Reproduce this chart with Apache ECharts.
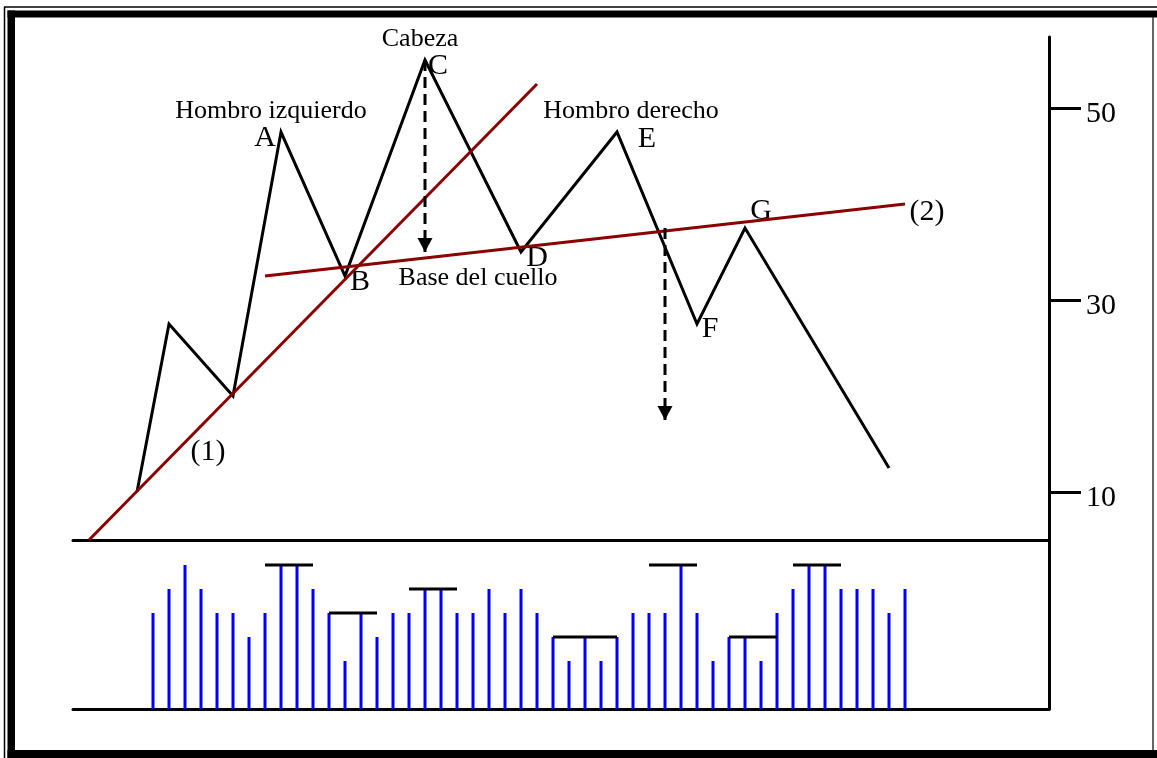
<!DOCTYPE html>
<html>
<head>
<meta charset="utf-8">
<title>Hombro-cabeza-hombro</title>
<script src="https://cdn.jsdelivr.net/npm/echarts@6/dist/echarts.min.js"></script>
<style>
  html, body { margin: 0; padding: 0; background: #fff; }
  #chart { width: 1157px; height: 758px; }
</style>
</head>
<body>
<div id="chart"></div>
<script>
// price path (session index, price)
const priceX = [-1, 1, 5, 8, 12, 17, 23, 29, 34, 37, 46];
const priceY = [10, 27.5, 20, 47.5, 32.5, 55, 35, 47.5, 27.5, 37.5, 12.5];

// trend line (1) and neckline (2)
const trendX = [-4, 24];
const trendY = [5, 52.5];
const neckX = [7, 47];
const neckY = [32.5, 40];

// projected moves (dashed arrows)
const arrowX = [17, 32];
const arrowFrom = [55, 37.5];
const arrowTo = [35, 17.5];

// volume per session
const volume = [4, 5, 6, 5, 4, 4, 3, 4, 6, 6, 5, 4, 2, 4, 3, 4, 4, 5, 5, 4, 4, 5, 4, 5,
                4, 3, 2, 3, 2, 3, 4, 4, 4, 6, 4, 2, 3, 3, 2, 4, 5, 6, 6, 5, 5, 5, 4, 5];

// horizontal volume levels
const levelStart = [7, 11, 16, 25, 31, 36, 40];
const levelEnd = [10, 14, 19, 29, 34, 39, 43];
const levelValue = [6, 4, 5, 3, 6, 3, 6];

const yTicks = [10, 30, 50];

const FONT = '"Liberation Serif", "Times New Roman", serif';
const RED = '#8b0000';

const chart = echarts.init(document.getElementById('chart'));

const pt = (i) => [priceX[i], priceY[i]];

const tag = (value, text, dx, dy, size) => ({
    value: value,
    name: text,
    label: { offset: [dx, dy], fontSize: size }
});

const notes = [
    tag(pt(3), 'A', -16, 6, 30),
    tag(pt(4), 'B', 15, 6, 30),
    tag(pt(5), 'C', 13, 6, 30),
    tag(pt(6), 'D', 16, 6, 30),
    tag(pt(7), 'E', 30, 7, 30),
    tag(pt(8), 'F', 13, 5, 30),
    tag(pt(9), 'G', 16, -17, 30),
    tag(pt(5), 'Cabeza', -5, -21, 26),
    tag(pt(3), 'Hombro izquierdo', -10, -21, 26),
    tag(pt(7), 'Hombro derecho', 14, -21, 26),
    tag(pt(6), 'Base del cuello', -43, 26, 26),
    tag(pt(2), '(1)', -25, 56, 30),
    tag([neckX[1], neckY[1]], '(2)', 22, 8, 30)
];

const segment = (xs, ys, color, extra) => ({
    type: 'line',
    xAxisIndex: 0,
    yAxisIndex: 0,
    data: xs.map((x, i) => [x, ys[i]]),
    symbol: 'none',
    silent: true,
    lineStyle: Object.assign({ color: color, width: 3 }, extra || {})
});

const plainX = (grid) => ({
    type: 'value',
    gridIndex: grid,
    min: -5,
    max: 56,
    axisLine: { show: true, onZero: false, lineStyle: { color: '#000', width: 3 } },
    axisTick: { show: false },
    axisLabel: { show: false },
    splitLine: { show: false }
});

const option = {
    backgroundColor: '#fff',
    animation: false,
    graphic: [
        // page frame
        { type: 'line', shape: { x1: 4.5, y1: 7, x2: 4.5, y2: 758 }, style: { stroke: '#000', lineWidth: 1.5 } },
        { type: 'line', shape: { x1: 4, y1: 7, x2: 1157, y2: 7 }, style: { stroke: '#000', lineWidth: 1.5 } },
        { type: 'rect', shape: { x: 7.5, y: 10.5, width: 7.5, height: 748 }, style: { fill: '#000' } },
        { type: 'rect', shape: { x: 7.5, y: 10.5, width: 1150, height: 7 }, style: { fill: '#000' } },
        { type: 'rect', shape: { x: 7.5, y: 750, width: 1150, height: 8 }, style: { fill: '#000' } },
        { type: 'line', shape: { x1: 1153, y1: 17, x2: 1153, y2: 750 }, style: { stroke: '#333', lineWidth: 1.5 } }
    ],
    grid: [
        { left: 73, right: 108, top: 37, height: 503 },
        { left: 73, right: 108, top: 541, height: 168 }
    ],
    xAxis: [plainX(0), plainX(1)],
    yAxis: [
        {
            type: 'value',
            gridIndex: 0,
            position: 'right',
            min: 5,
            max: 57.4,
            axisLine: { show: true, onZero: false, lineStyle: { color: '#000', width: 3 } },
            axisTick: {
                show: true,
                length: 32,
                customValues: yTicks,
                lineStyle: { color: '#000', width: 3 }
            },
            axisLabel: {
                customValues: yTicks,
                margin: 37,
                color: '#000',
                fontSize: 30,
                fontFamily: FONT,
                verticalAlign: 'top',
                lineHeight: 12
            },
            splitLine: { show: false }
        },
        {
            type: 'value',
            gridIndex: 1,
            position: 'right',
            min: 0,
            max: 7,
            axisLine: { show: true, onZero: false, lineStyle: { color: '#000', width: 3 } },
            axisTick: { show: false },
            axisLabel: { show: false },
            splitLine: { show: false }
        }
    ],
    series: [
        {
            type: 'bar',
            xAxisIndex: 1,
            yAxisIndex: 1,
            barWidth: 3,
            silent: true,
            itemStyle: { color: '#0000ff' },
            data: volume.map((v, i) => [i, v])
        },
        ...levelStart.map((s, i) => ({
            type: 'line',
            xAxisIndex: 1,
            yAxisIndex: 1,
            symbol: 'none',
            silent: true,
            z: 3,
            lineStyle: { color: '#000', width: 3 },
            data: [[s, levelValue[i]], [levelEnd[i], levelValue[i]]]
        })),
        segment(priceX, priceY, '#000', { join: 'miter', miterLimit: 10 }),
        segment(trendX, trendY, RED),
        segment(neckX, neckY, RED),
        ...arrowX.map((x, i) => segment([x, x], [arrowFrom[i], arrowTo[i]], '#000', { type: [11, 6] })),
        {
            type: 'scatter',
            xAxisIndex: 0,
            yAxisIndex: 0,
            silent: true,
            symbol: 'path://M0,0L2,0L1,2Z',
            symbolSize: [15, 14],
            symbolOffset: [0, -7],
            itemStyle: { color: '#000', opacity: 1 },
            data: arrowX.map((x, i) => [x, arrowTo[i]])
        },
        {
            type: 'scatter',
            xAxisIndex: 0,
            yAxisIndex: 0,
            silent: true,
            symbolSize: 1,
            itemStyle: { color: 'rgba(0,0,0,0)', opacity: 1 },
            label: {
                show: true,
                position: 'inside',
                formatter: '{b}',
                color: '#000',
                fontFamily: FONT,
                align: 'center',
                verticalAlign: 'middle'
            },
            data: notes
        }
    ]
};

chart.setOption(option);
</script>
</body>
</html>
